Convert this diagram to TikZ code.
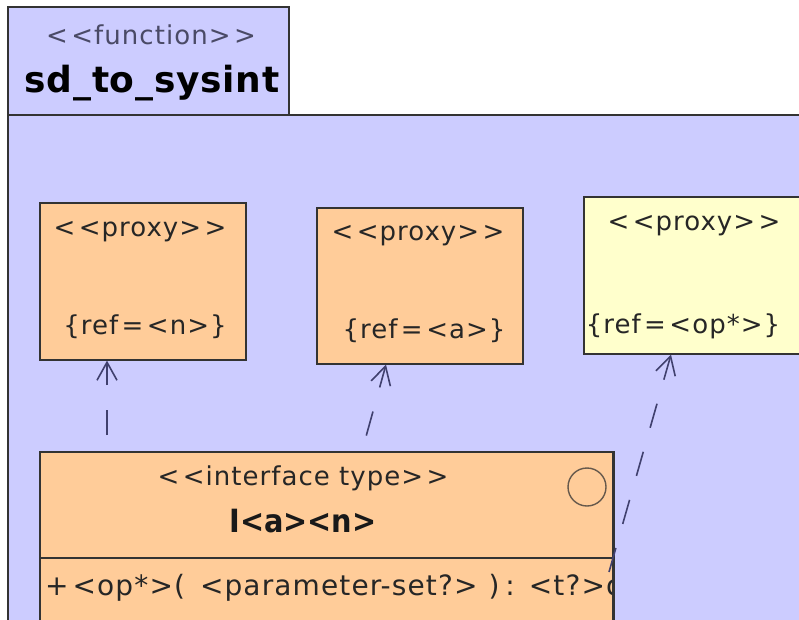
\documentclass[tikz,border=0pt]{standalone}
\usepackage{fontspec}
\setmainfont{DejaVu Sans}
\newfontfamily\lblfont[LetterSpace=4]{DejaVu Sans}
\newfontfamily\titlefont[LetterSpace=2]{DejaVu Sans}
\newfontfamily\namefont[FakeStretch=0.9]{DejaVu Sans}
\usetikzlibrary{arrows.meta}
\definecolor{framefill}{HTML}{CCCCFF}
\definecolor{proxyfill}{HTML}{FFCC99}
\definecolor{extfill}{HTML}{FFFFCC}
\definecolor{edgegray}{HTML}{333333}
\definecolor{depcolor}{HTML}{40406E}
\definecolor{textgray}{HTML}{4A4A66}
\newcommand{\gp}{\kern3.5pt}
\tikzset{
  boxline/.style={draw=edgegray, line width=1.6pt},
  proxybox/.style={boxline, fill=proxyfill, rectangle, inner sep=0pt, anchor=north west},
  extbox/.style={boxline, fill=extfill, rectangle, inner sep=0pt, anchor=north west},
  label/.style={inner sep=0pt, text=black!85, font=\lblfont\fontsize{26}{28}\selectfont},
  dep/.style={draw=depcolor, line width=1.6pt, dash pattern=on 25pt off 25pt,
              -{Straight Barb[length=18pt, width=20pt, line width=1.6pt]}}
}
\begin{document}
\begin{tikzpicture}[x=1pt, y=-1pt]
\useasboundingbox (0,0) rectangle (799,619);
\fill[white] (0,0) rectangle (799,619);

% package frame with its name tab
\fill[framefill] (8,7) rectangle (289,115);
\fill[framefill] (8,115) rectangle (805,625);
\draw[boxline] (8,625) -- (8,7) -- (289,7) -- (289,115);
\draw[boxline] (8,115) -- (805,115);
\node[label, text=textgray] (fstereo) at (151,35) {<\gp<function>\gp>};
\node[inner sep=0pt, font=\titlefont\fontsize{36}{40}\bfseries\selectfont] (fname) at (152,83) {sd\_to\_sysint};

% proxies
\node[proxybox, minimum width=206pt, minimum height=157pt] (pn) at (39,202) {};
\node[label] (pnst) at (140,232) {<\gp<proxy>\gp>};
\node[label] (pnref) at (145,327) {\{ref\gp=\gp<n>\}};

\node[proxybox, minimum width=206pt, minimum height=156pt] (pa) at (316,207) {};
\node[label] (past) at (418,236) {<\gp<proxy>\gp>};
\node[label] (paref) at (424,331) {\{ref\gp=\gp<a>\}};

\node[extbox, minimum width=240pt, minimum height=157pt] (pop) at (583,196) {};
\node[label] (popst) at (694,226) {<\gp<proxy>\gp>};
\node[label] (popref) at (683,326) {\{ref\gp=\gp<op*>\}};

% interface type
\node[proxybox, minimum width=574pt, minimum height=190pt] (itf) at (39,451) {};
\draw[boxline] (39,558) -- (613,558);
\draw[draw=edgegray!75!proxyfill, line width=1.4pt] (587,487) circle (19);
\node[label] (itfst) at (303,478) {<\gp<interface type>\gp>};
\node[inner sep=0pt, text=black!90, font=\namefont\fontsize{32}{34}\bfseries\selectfont] (iname) at (303,521) {I<a><n>};
\begin{scope}
  \clip (39,558) rectangle (613,619);
  \node[inner sep=0pt, text=black!85, font=\lblfont\fontsize{28}{30}\selectfont, anchor=west] (op) at (45,588)
    {+\kern4pt<op*>(\kern15pt<parameter-set?>\kern11pt)\kern6pt:\kern14pt<t?>o};
\end{scope}
\draw[boxline] (613,451) -- (613,625);

% dependencies
\coordinate (s1) at (107,451);
\coordinate (s2) at (362,451);
\coordinate (t2) at (386,0);
\coordinate (s3) at (609,572);
\coordinate (t3) at (671,0);
\draw[dep, dash phase=34pt] (s1) -- (pn.south -| s1);
\draw[dep, dash phase=34pt] (s2) -- (pa.south -| t2);
\draw[dep] (s3) -- (pop.south -| t3);
\end{tikzpicture}
\end{document}
